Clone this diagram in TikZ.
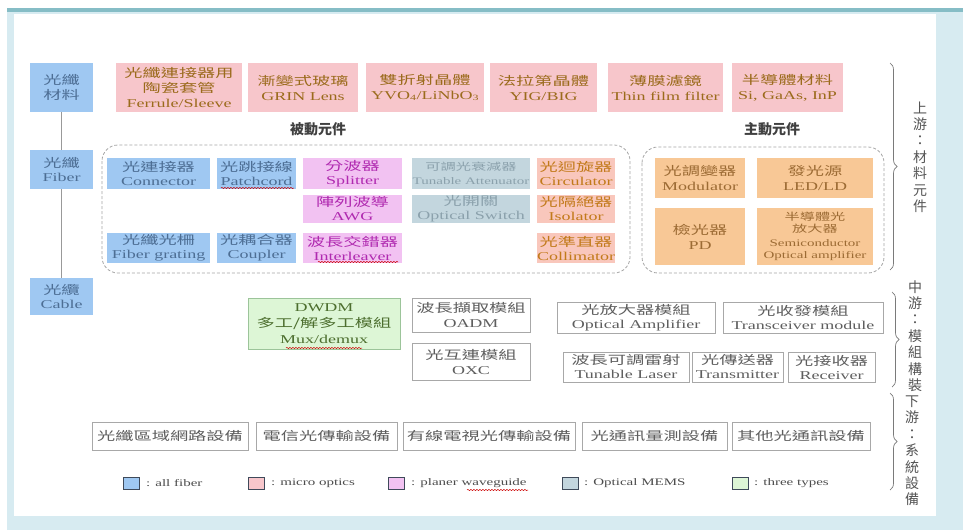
\documentclass[tikz,border=0pt]{standalone}
\usepackage{fontspec}
\setmainfont[FakeStretch=1.5]{Liberation Serif}
\newfontfamily\cjk[FakeStretch=1.52]{Noto Sans CJK TC}
\newfontfamily\cjkn{Noto Sans CJK TC}
\usetikzlibrary{decorations.pathreplacing,decorations.pathmorphing}
\definecolor{frameBlue}{HTML}{D7EBF1}
\definecolor{frameTeal}{HTML}{86BDC6}
\definecolor{cFib}{HTML}{9FC8F2}\definecolor{tFib}{HTML}{4D6E94}
\definecolor{cMic}{HTML}{F7C6CB}\definecolor{tMic}{HTML}{9B6B1C}
\definecolor{cPlw}{HTML}{F2C2F2}\definecolor{tPlw}{HTML}{B02AB0}
\definecolor{cMem}{HTML}{C3D6DE}\definecolor{tMem}{HTML}{8BA1AC}
\definecolor{cMicB}{HTML}{F9C7BC}\definecolor{tMicB}{HTML}{C27A1A}
\definecolor{cAct}{HTML}{F8C896}\definecolor{tAct}{HTML}{9C6B34}
\definecolor{cGrn}{HTML}{DDF6D6}\definecolor{bGrn}{HTML}{9CC49A}\definecolor{tGrn}{HTML}{4C6E2E}
\definecolor{bGray}{HTML}{A8A8A8}\definecolor{tGray}{HTML}{5E5E5E}
\definecolor{dashGray}{HTML}{A6A6A6}
\definecolor{braceGray}{HTML}{7A7A7A}
\definecolor{vtext}{HTML}{555555}
\definecolor{legBorder}{HTML}{3F4A5A}
\newcommand\tl[2]{{\cjk #1}\\#2}
\begin{document}
\begin{tikzpicture}[x=1pt,y=-1pt,
  box/.style={inner sep=0pt, align=center, font=\fontsize{12}{14}\selectfont},
  fib/.style={box, fill=cFib, text=tFib},
  mic/.style={box, fill=cMic, text=tMic},
  micb/.style={box, fill=cMicB, text=tMicB},
  plw/.style={box, fill=cPlw, text=tPlw},
  mem/.style={box, fill=cMem, text=tMem},
  act/.style={box, fill=cAct, text=tAct},
  grn/.style={box, fill=cGrn, draw=bGrn, text=tGrn},
  gbox/.style={box, fill=white, draw=bGray, line width=0.8pt, text=tGray},
  group/.style={draw=dashGray, dashed, dash pattern=on 3pt off 2pt, rounded corners=16pt, line width=0.8pt},
  conn/.style={draw=gray!80, line width=1.2pt},
  brc/.style={draw=braceGray, line width=0.7pt, decorate, decoration={brace, amplitude=7pt}},
  vlab/.style={inner sep=0pt, align=center, text=vtext, font=\cjkn\fontsize{14}{16.4}\selectfont},
  sec/.style={inner sep=0pt, text=black!75, font=\cjkn\fontsize{14}{15}\selectfont\bfseries},
  legsq/.style={draw=legBorder, line width=0.8pt, minimum width=16, minimum height=12, inner sep=0pt},
  legtx/.style={anchor=west, inner sep=0pt, text=black!70, font=\fontsize{10}{12}\selectfont},
  squig/.style={draw=red!80!black, line width=0.5pt, decorate, decoration={snake, amplitude=0.6pt, segment length=3pt}}
]
\useasboundingbox (0,0) rectangle (963,530);
% frame
\fill[white] (0,0) rectangle (963,530);
\fill[frameBlue] (7,8) rectangle (963,530);
\fill[white] (14,14) rectangle (936,516);
\fill[frameTeal] (7,8) rectangle (963,11.5);

% left column
\node[fib, minimum width=63, minimum height=49, font=\cjk\fontsize{12}{15}\selectfont] (mat) at (61.5,87.5) {光纖\\材料};
\node[fib, minimum width=63, minimum height=39] (fib) at (61.5,169.5) {\tl{光纖}{Fiber}};
\node[fib, minimum width=63, minimum height=37] (cab) at (61.5,296.5) {\tl{光纜}{Cable}};
\draw[conn] (mat) -- (fib);
\draw[conn] (fib) -- (cab);

% materials row
\node[mic, minimum width=126, minimum height=49, font=\fontsize{12}{15}\selectfont] (m1) at (179,87.5) {{\cjk 光纖連接器用}\\{\cjk 陶瓷套管}\\Ferrule/Sleeve};
\node[mic, minimum width=110, minimum height=49, font=\fontsize{12}{15}\selectfont] (m2) at (303,87.5) {\tl{漸變式玻璃}{GRIN Lens}};
\node[mic, minimum width=118, minimum height=49, font=\fontsize{12}{15}\selectfont] (m3) at (425,87.5) {\tl{雙折射晶體}{YVO\textsubscript{4}/LiNbO\textsubscript{3}}};
\node[mic, minimum width=107, minimum height=49, font=\fontsize{12}{15}\selectfont] (m4) at (543.5,87.5) {\tl{法拉第晶體}{YIG/BIG}};
\node[mic, minimum width=115, minimum height=49, font=\fontsize{12}{15}\selectfont] (m5) at (665.5,87.5) {\tl{薄膜濾鏡}{Thin film filter}};
\node[mic, minimum width=111, minimum height=49, font=\fontsize{12}{15}\selectfont] (m6) at (787.5,87.5) {\tl{半導體材料}{Si, GaAs, InP}};

% section titles
\node[sec] (passT) at (318,129) {被動元件};
\node[sec] (actT) at (772,129) {主動元件};

% groups
\draw[group] (102,145) rectangle (630,273);
\draw[group] (642,147) rectangle (884,273);

% passive row 1
\node[fib, minimum width=103, minimum height=31] (p1) at (158.5,173.5) {\tl{光連接器}{Connector}};
\node[fib, minimum width=79, minimum height=31] (p2) at (256.5,173.5) {\tl{光跳接線}{Patchcord}};
\node[plw, minimum width=99, minimum height=31] (p3) at (352.5,173.5) {\tl{分波器}{Splitter}};
\node[mem, minimum width=118, minimum height=31, font=\fontsize{10}{14}\selectfont] (p4) at (471,173.5) {{\cjk\fontsize{10}{14}\selectfont 可調光衰減器}\\Tunable Attenuator};
\node[micb, minimum width=78, minimum height=31] (p5) at (576,173.5) {\tl{光迴旋器}{Circulator}};
% passive row 2
\node[plw, minimum width=99, minimum height=28] (p6) at (352.5,209) {\tl{陣列波導}{AWG}};
\node[mem, minimum width=118, minimum height=28] (p7) at (471,209) {\tl{光開關}{Optical Switch}};
\node[micb, minimum width=78, minimum height=28] (p8) at (576,209) {\tl{光隔絕器}{Isolator}};
% passive row 3
\node[fib, minimum width=103, minimum height=30] (p9) at (158.5,248) {\tl{光纖光柵}{Fiber grating}};
\node[fib, minimum width=79, minimum height=30] (p10) at (256.5,248) {\tl{光耦合器}{Coupler}};
\node[plw, minimum width=99, minimum height=30] (p11) at (352.5,248) {\tl{波長交錯器}{Interleaver}};
\node[micb, minimum width=78, minimum height=30] (p12) at (576,248) {\tl{光準直器}{Collimator}};

% active
\node[act, minimum width=90, minimum height=40, font=\fontsize{12}{15}\selectfont] (a1) at (700,178) {\tl{光調變器}{Modulator}};
\node[act, minimum width=116, minimum height=40, font=\fontsize{12}{15}\selectfont] (a2) at (815,178) {\tl{發光源}{LED/LD}};
\node[act, minimum width=90, minimum height=57, font=\fontsize{12}{15}\selectfont] (a3) at (700,236.5) {\tl{檢光器}{PD}};
\node[act, minimum width=116, minimum height=57, font=\fontsize{10}{12}\selectfont] (a4) at (815,236.5) {{\cjk\fontsize{10}{12}\selectfont 半導體光}\\{\cjk\fontsize{10}{12}\selectfont 放大器}\\[2pt]Semiconductor\\Optical amplifier};

% midstream
\node[grn, minimum width=152, minimum height=51, font=\fontsize{12}{16}\selectfont] (d1) at (324,323.5) {DWDM\\{\cjk 多工/解多工模組}\\Mux/demux};
\node[gbox, minimum width=118, minimum height=34, font=\fontsize{12}{15}\selectfont] (d2) at (471,315) {\tl{波長擷取模組}{OADM}};
\node[gbox, minimum width=118, minimum height=37, font=\fontsize{12}{15}\selectfont] (d3) at (471,361.5) {\tl{光互連模組}{OXC}};
\node[gbox, minimum width=158, minimum height=31] (d4) at (636,317.5) {\tl{光放大器模組}{Optical Amplifier}};
\node[gbox, minimum width=160, minimum height=31] (d5) at (803,317.5) {\tl{光收發模組}{Transceiver module}};
\node[gbox, minimum width=126, minimum height=30] (d6) at (626,367) {\tl{波長可調雷射}{Tunable Laser}};
\node[gbox, minimum width=91, minimum height=30] (d7) at (737.5,367) {\tl{光傳送器}{Transmitter}};
\node[gbox, minimum width=87, minimum height=30] (d8) at (831.5,367) {\tl{光接收器}{Receiver}};

% downstream
\node[gbox, minimum width=156, minimum height=28, font=\cjk\fontsize{12}{14}\selectfont] (b1) at (170,436) {光纖區域網路設備};
\node[gbox, minimum width=141, minimum height=28, font=\cjk\fontsize{12}{14}\selectfont] (b2) at (326.5,436) {電信光傳輸設備};
\node[gbox, minimum width=172, minimum height=28, font=\cjk\fontsize{12}{14}\selectfont] (b3) at (489,436) {有線電視光傳輸設備};
\node[gbox, minimum width=145, minimum height=28, font=\cjk\fontsize{12}{14}\selectfont] (b4) at (654.5,436) {光通訊量測設備};
\node[gbox, minimum width=138, minimum height=28, font=\cjk\fontsize{12}{14}\selectfont] (b5) at (801,436) {其他光通訊設備};

% braces and stage labels
\coordinate (br1a) at (890,63);  \coordinate (br1b) at (890,270);
\coordinate (br2a) at (892,292); \coordinate (br2b) at (892,387);
\coordinate (br3a) at (890,393); \coordinate (br3b) at (890,490);
\draw[brc] (br1a) -- (br1b);
\draw[brc] (br2a) -- (br2b);
\draw[brc] (br3a) -- (br3b);
\node[vlab] (up) at (920,157) {上\\游\\：\\材\\料\\元\\件};
\node[vlab] (mid) at (915,336) {中\\游\\：\\模\\組\\構\\裝};
\node[vlab] (down) at (912,451) {下\\游\\：\\系\\統\\設\\備};

% legend
\node[legsq, fill=cFib] (l1) at (131.5,483) {};
\node[legtx] (l1t) at (146,483) {: all fiber};
\node[legsq, fill=cMic] (l2) at (256.5,483) {};
\node[legtx] (l2t) at (271,483) {: micro optics};
\node[legsq, fill=cPlw] (l3) at (396.5,483) {};
\node[legtx] (l3t) at (411,483) {: planer waveguide};
\node[legsq, fill=cMem] (l4) at (570,483) {};
\node[legtx] (l4t) at (584,483) {: Optical MEMS};
\node[legsq, fill=cGrn] (l5) at (740,483) {};
\node[legtx] (l5t) at (754,483) {: three types};

% spell-check squiggles
\draw[squig] (221,188) -- (294,188);
\draw[squig] (318,262) -- (398,262);
\draw[squig] (286,348) -- (362,348);
\draw[squig] (467,490) -- (528,490);
\end{tikzpicture}
\end{document}
